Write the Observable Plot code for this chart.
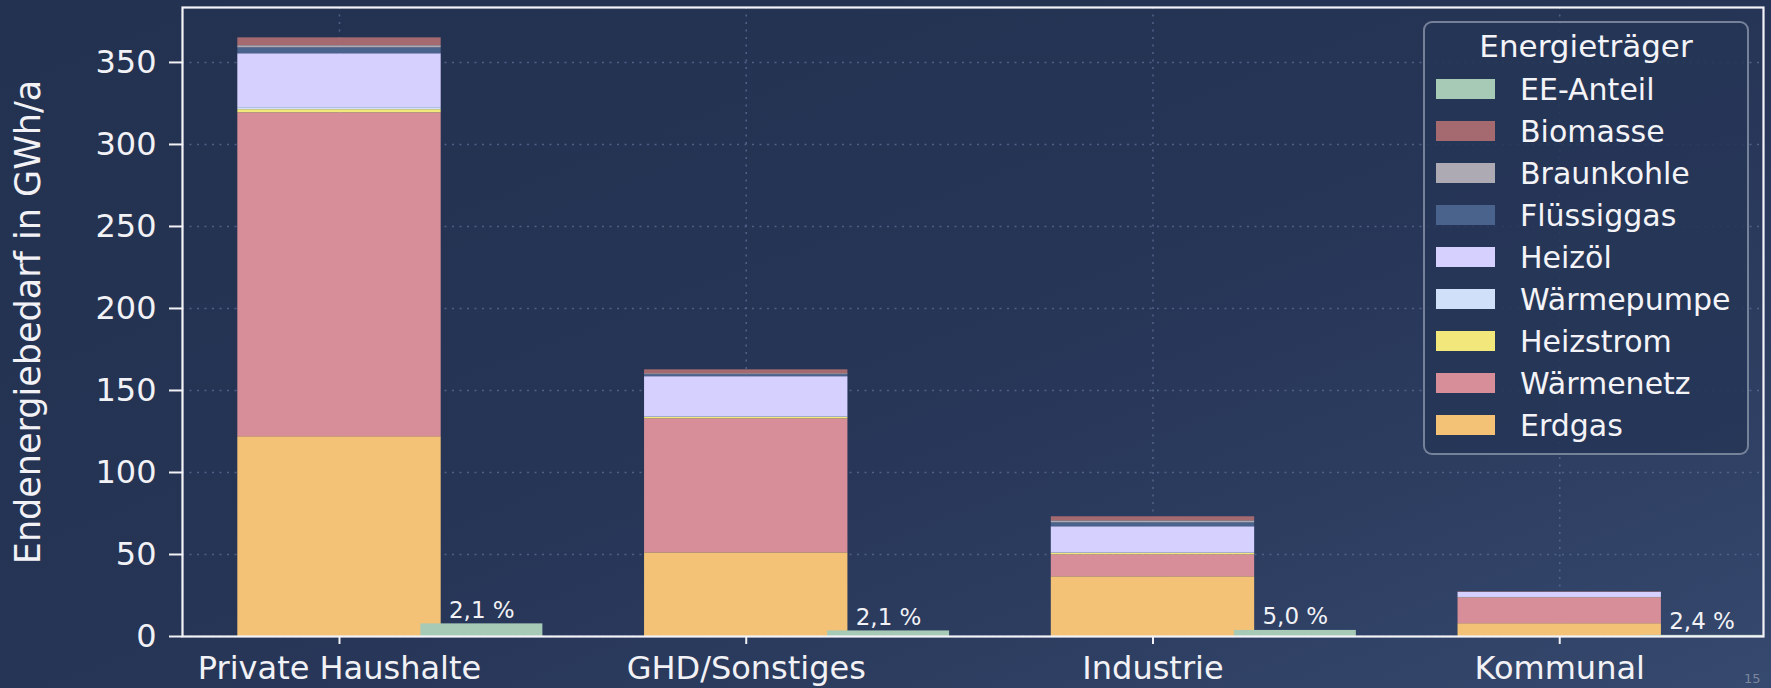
<!DOCTYPE html>
<html>
<head>
<meta charset="utf-8">
<script src="https://cdn.jsdelivr.net/npm/d3@7"></script>
<script src="https://cdn.jsdelivr.net/npm/@observablehq/plot@0.6"></script>
<style>
html, body { margin: 0; padding: 0; width: 1771px; height: 688px; overflow: hidden; }
body {
  background: linear-gradient(to bottom right, #243251 0%, #263455 50%, #2c3d60 75%, #36496e 100%);
  font-family: "DejaVu Sans", sans-serif;
}
#wrap { position: relative; width: 1771px; height: 688px; }
#chart { position: absolute; left: 0; top: 0; }
#legend {
  position: absolute; left: 1423px; top: 21px; width: 326px; height: 434px;
  box-sizing: border-box; border: 2px solid rgba(185, 192, 210, 0.55); border-radius: 9px;
  background: rgba(38, 53, 86, 0.88); color: #f4f4f8;
}
#legend .title { position: absolute; left: 0; width: 100%; top: 2px; text-align: center; font-size: 31px; line-height: 42px; }
#legend .row { position: absolute; left: 0; width: 100%; height: 42px; line-height: 42px; font-size: 30px; }
#legend .sw { position: absolute; left: 11px; top: 10px; width: 59px; height: 20px; }
#legend .lab { position: absolute; left: 95px; top: 0; white-space: nowrap; }
#pageno { position: absolute; left: 1744px; top: 671px; font-size: 13px; line-height: 15px; color: #7c879f; }
</style>
</head>
<body>
<div id="wrap">
  <div id="chart"></div>
  <div id="legend"></div>
  <div id="pageno">15</div>
</div>
<script>
// ---- data ----
const categories = ["Private Haushalte", "GHD/Sonstiges", "Industrie", "Kommunal"];
// stacking order bottom -> top
const carriers = ["Erdgas", "Wärmenetz", "Heizstrom", "Wärmepumpe", "Heizöl", "Flüssiggas", "Braunkohle", "Biomasse"];
const erdgas      = [121.8, 51.0, 36.4, 7.8];
const waermenetz  = [197.5, 81.7, 13.4, 15.8];
const heizstrom   = [1.9, 0.9, 0.9, 0.1];
const waermepumpe = [1.2, 0.3, 0.3, 0.1];
const heizoel     = [32.9, 24.5, 15.9, 3.1];
const fluessiggas = [3.6, 1.2, 2.4, 0.1];
const braunkohle  = [1.3, 0.6, 1.2, 0.0];
const biomasse    = [4.8, 2.4, 2.5, 0.3];
const eeValues    = [7.7, 3.4, 3.7, 0.7];
const eeLabels    = ["2,1 %", "2,1 %", "5,0 %", "2,4 %"];
const yTicks      = [0, 50, 100, 150, 200, 250, 300, 350];
const legendOrder = ["EE-Anteil", "Biomasse", "Braunkohle", "Flüssiggas", "Heizöl", "Wärmepumpe", "Heizstrom", "Wärmenetz", "Erdgas"];
const legendTitle = "Energieträger";
const yLabel      = "Endenergiebedarf in GWh/a";
const palette = {
  "EE-Anteil": "#a7cab6",
  "Biomasse": "#a46a70",
  "Braunkohle": "#adaab3",
  "Flüssiggas": "#4a638d",
  "Heizöl": "#d6d0ff",
  "Wärmepumpe": "#cfe0f8",
  "Heizstrom": "#f2e77a",
  "Wärmenetz": "#d78e98",
  "Erdgas": "#f3c276"
};

// ---- table for the stacked bars ----
const series = [erdgas, waermenetz, heizstrom, waermepumpe, heizoel, fluessiggas, braunkohle, biomasse];
const stacked = [];
categories.forEach((c, i) => {
  let acc = 0;
  series.forEach((s, k) => {
    stacked.push({i, carrier: carriers[k], y1: acc, y2: acc + s[i]});
    acc += s[i];
  });
});
const ee = categories.map((c, i) => ({i, value: eeValues[i], label: eeLabels[i], carrier: "EE-Anteil"}));

const gridStyle = {stroke: "#5d6f98", strokeOpacity: 0.75, strokeWidth: 1.6, strokeDasharray: "2,5.5"};

const chart = Plot.plot({
  width: 1771,
  height: 688,
  marginLeft: 182,
  marginRight: 8,
  marginTop: 7,
  marginBottom: 52,
  style: {background: "transparent", color: "#f2f2f6", fontFamily: "DejaVu Sans, sans-serif"},
  x: {type: "linear", domain: [-0.386, 3.501]},
  y: {domain: [0, 383.5]},
  color: {domain: legendOrder, range: legendOrder.map(k => palette[k])},
  marks: [
    Plot.gridY(yTicks, gridStyle),
    Plot.gridX([0, 1, 2, 3], gridStyle),
    Plot.rect(stacked, {x1: d => d.i - 0.25, x2: d => d.i + 0.25, y1: "y1", y2: "y2", fill: "carrier", inset: 0}),
    Plot.rect(ee, {x1: d => d.i + 0.2, x2: d => d.i + 0.5, y1: 0, y2: "value", fill: "carrier", inset: 0}),
    Plot.text(ee, {x: d => d.i + 0.35, y: "value", text: "label", lineAnchor: "bottom", dy: -6, fontSize: 23, fill: "#f2f2f6"}),
    Plot.axisX({ticks: [0, 1, 2, 3], tickFormat: i => categories[i], tickSize: 8, tickPadding: 12, fontSize: 32, label: null, stroke: "#f2f2f6", strokeWidth: 2}),
    Plot.axisY({ticks: yTicks, tickSize: 13, tickPadding: 13, fontSize: 32, stroke: "#f2f2f6", strokeWidth: 2,
      label: null}),
    Plot.axisY({ticks: [], tickSize: 0, fontSize: 35, label: yLabel, labelAnchor: "center", labelArrow: "none", labelOffset: 167}),
    Plot.frame({stroke: "#f4f4f8", strokeWidth: 2.2})
  ]
});
document.getElementById("chart").appendChild(chart);

// ---- legend ----
const legend = document.getElementById("legend");
const t = document.createElement("div");
t.className = "title";
t.textContent = legendTitle;
legend.appendChild(t);
legendOrder.forEach((k, j) => {
  const row = document.createElement("div");
  row.className = "row";
  row.style.top = (45.6 + 42 * j) + "px";
  const sw = document.createElement("span");
  sw.className = "sw";
  sw.style.background = palette[k];
  const lab = document.createElement("span");
  lab.className = "lab";
  lab.textContent = k;
  row.appendChild(sw);
  row.appendChild(lab);
  legend.appendChild(row);
});
</script>
</body>
</html>
